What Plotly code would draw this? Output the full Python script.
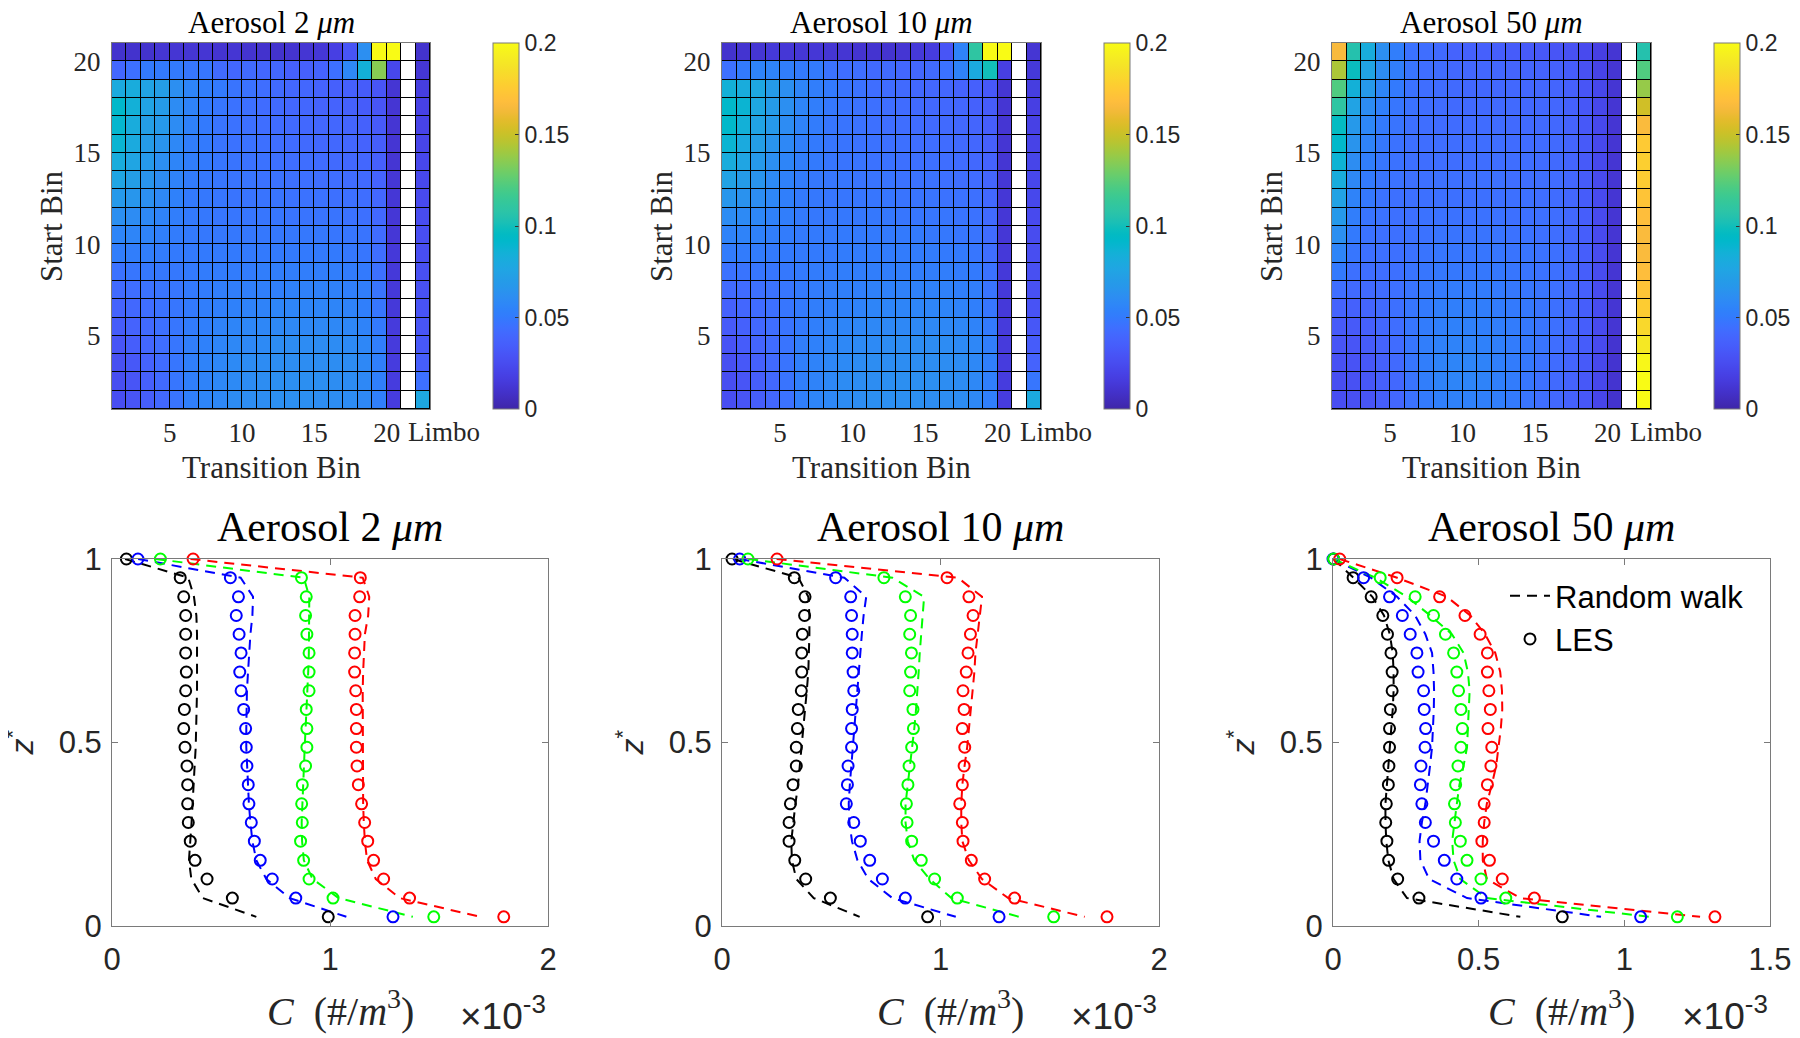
import plotly.graph_objects as go

W, H = 1800, 1038          # browser window
OFF = 8                    # default page (body) margin of the browser
FW, FH = W - OFF, H - OFF  # figure size so that figure + page margin fills the window


def fx(p):
    return (p - OFF) / FW


def fy(p):
    return 1 - (p - OFF) / FH


# ---------------- data ----------------
transition_bins = list(range(1, 23))          # 1..20, empty column 21, Limbo column 22
start_bins = list(range(20, 0, -1))           # rows listed top (20) to bottom (1)
heat_xticks = [5, 10, 15, 20]
heat_xticktext = ["5", "10", "15", "20"]
limbo_label = "Limbo"
limbo_pos = 24
heat_yticks = [5, 10, 15, 20]
heat_yticktext = ["5", "10", "15", "20"]
cbar_ticks = [0, 0.05, 0.1, 0.15, 0.2]
cbar_ticktext = ["0", "0.05", "0.1", "0.15", "0.2"]
titles = ["Aerosol 2 <i>μm</i>", "Aerosol 10 <i>μm</i>", "Aerosol 50 <i>μm</i>"]

N = None
p2 = [
    [.010, .010, .010, .012, .012, .012, .012, .011, .012, .011, .010, .010, .011, .012, .013, .018, .030, .062, .250, .280, N, .010],
    [.040, .045, .050, .050, .050, .048, .048, .042, .040, .042, .040, .040, .036, .036, .038, .045, .058, .085, .135, .022, N, .013],
    [.080, .082, .075, .072, .062, .056, .052, .050, .047, .046, .044, .042, .040, .040, .038, .036, .036, .034, .030, .012, N, .017],
    [.092, .085, .075, .070, .060, .055, .050, .048, .046, .045, .043, .042, .040, .040, .038, .038, .037, .034, .030, .012, N, .019],
    [.090, .082, .072, .068, .060, .054, .050, .047, .046, .045, .044, .043, .042, .041, .040, .040, .039, .037, .033, .012, N, .020],
    [.088, .080, .070, .065, .058, .052, .050, .047, .046, .046, .045, .044, .043, .042, .041, .041, .040, .038, .035, .012, N, .021],
    [.082, .076, .068, .062, .056, .052, .050, .048, .047, .046, .046, .045, .044, .044, .043, .042, .041, .040, .036, .012, N, .022],
    [.076, .072, .065, .060, .055, .051, .049, .048, .047, .047, .046, .046, .045, .045, .044, .044, .043, .042, .038, .013, N, .023],
    [.068, .066, .062, .058, .054, .050, .049, .048, .047, .047, .047, .047, .046, .046, .046, .045, .045, .044, .040, .013, N, .024],
    [.062, .060, .058, .055, .052, .050, .049, .048, .048, .048, .048, .048, .047, .047, .047, .047, .046, .045, .041, .013, N, .025],
    [.056, .056, .055, .053, .051, .050, .049, .049, .049, .049, .049, .049, .049, .049, .049, .048, .048, .047, .043, .013, N, .026],
    [.052, .052, .052, .051, .050, .050, .050, .050, .050, .050, .050, .050, .050, .050, .050, .050, .049, .048, .044, .014, N, .026],
    [.046, .048, .049, .049, .049, .050, .051, .051, .051, .051, .052, .052, .052, .052, .052, .052, .051, .050, .045, .014, N, .027],
    [.042, .044, .046, .047, .048, .050, .051, .052, .052, .053, .053, .053, .054, .054, .054, .054, .053, .052, .047, .014, N, .028],
    [.038, .041, .044, .046, .048, .050, .052, .053, .054, .055, .055, .056, .056, .056, .056, .056, .055, .053, .048, .014, N, .029],
    [.034, .038, .042, .045, .048, .051, .053, .055, .056, .057, .057, .058, .058, .058, .058, .058, .057, .055, .050, .015, N, .030],
    [.030, .035, .040, .044, .048, .052, .054, .056, .058, .058, .059, .060, .060, .060, .060, .060, .059, .057, .052, .015, N, .032],
    [.027, .032, .038, .043, .048, .053, .055, .057, .059, .060, .060, .061, .061, .061, .061, .061, .060, .058, .053, .016, N, .035],
    [.026, .030, .036, .042, .048, .053, .055, .058, .059, .060, .061, .062, .062, .062, .062, .061, .060, .058, .053, .016, N, .045],
    [.026, .030, .035, .041, .047, .053, .056, .058, .060, .061, .061, .062, .062, .062, .061, .061, .060, .058, .053, .016, N, .078],
]
p10 = [
    [.010, .011, .012, .014, .013, .013, .013, .012, .012, .011, .011, .011, .012, .014, .016, .030, .055, .110, .240, .260, N, .012],
    [.045, .050, .055, .055, .052, .050, .050, .046, .044, .044, .042, .042, .040, .040, .042, .046, .055, .080, .100, .018, N, .014],
    [.085, .082, .078, .070, .062, .056, .052, .050, .047, .046, .044, .043, .042, .041, .040, .040, .038, .036, .032, .012, N, .017],
    [.092, .088, .078, .070, .062, .056, .052, .049, .047, .046, .045, .044, .043, .042, .041, .041, .040, .037, .034, .012, N, .018],
    [.092, .085, .075, .068, .060, .055, .051, .048, .047, .046, .045, .044, .044, .043, .042, .042, .041, .039, .035, .012, N, .019],
    [.088, .080, .072, .065, .058, .053, .050, .048, .047, .046, .046, .045, .045, .044, .044, .043, .042, .040, .036, .012, N, .020],
    [.082, .076, .068, .062, .056, .052, .050, .048, .047, .047, .046, .046, .045, .045, .045, .044, .043, .041, .038, .012, N, .021],
    [.074, .070, .065, .059, .054, .051, .049, .048, .048, .047, .047, .047, .046, .046, .046, .045, .044, .043, .039, .013, N, .022],
    [.066, .064, .061, .057, .053, .050, .049, .048, .048, .048, .048, .048, .047, .047, .047, .046, .046, .045, .041, .013, N, .023],
    [.060, .059, .057, .054, .052, .050, .049, .049, .049, .049, .049, .049, .048, .048, .048, .048, .047, .046, .042, .013, N, .024],
    [.055, .055, .054, .052, .051, .050, .050, .050, .050, .050, .050, .050, .050, .050, .049, .049, .048, .047, .043, .013, N, .025],
    [.051, .051, .051, .050, .050, .050, .050, .050, .051, .051, .051, .051, .051, .051, .051, .050, .050, .048, .044, .014, N, .026],
    [.046, .047, .048, .048, .049, .050, .051, .051, .052, .052, .052, .052, .052, .052, .052, .052, .051, .050, .046, .014, N, .027],
    [.042, .043, .045, .046, .048, .050, .051, .052, .053, .053, .054, .054, .054, .054, .054, .054, .053, .052, .047, .014, N, .028],
    [.037, .040, .043, .045, .048, .050, .052, .053, .054, .055, .056, .056, .056, .056, .056, .056, .055, .053, .048, .014, N, .029],
    [.033, .037, .041, .044, .047, .050, .053, .055, .056, .057, .058, .058, .058, .058, .058, .058, .057, .055, .050, .015, N, .031],
    [.029, .034, .039, .043, .047, .052, .054, .056, .058, .059, .059, .060, .060, .060, .060, .060, .059, .057, .052, .015, N, .034],
    [.027, .032, .037, .042, .047, .053, .055, .057, .059, .060, .061, .061, .061, .061, .061, .061, .060, .058, .053, .016, N, .038],
    [.026, .030, .035, .041, .047, .053, .055, .058, .060, .061, .061, .062, .062, .062, .062, .061, .060, .058, .053, .016, N, .048],
    [.026, .030, .035, .040, .046, .053, .056, .058, .060, .061, .062, .062, .062, .062, .061, .061, .060, .058, .053, .016, N, .080],
]
p50 = [
    [.165, .105, .082, .062, .052, .046, .044, .042, .038, .037, .036, .035, .034, .033, .032, .030, .028, .024, .018, .012, N, .105],
    [.143, .098, .075, .060, .052, .047, .044, .043, .041, .040, .040, .040, .039, .039, .038, .037, .034, .028, .020, .012, N, .122],
    [.122, .085, .068, .056, .050, .046, .044, .043, .042, .041, .041, .041, .041, .040, .040, .039, .036, .030, .022, .012, N, .138],
    [.110, .075, .060, .053, .048, .046, .044, .043, .042, .042, .042, .042, .042, .041, .041, .040, .037, .031, .022, .012, N, .152],
    [.096, .068, .057, .050, .047, .045, .044, .043, .043, .043, .043, .043, .042, .042, .042, .041, .038, .032, .023, .012, N, .166],
    [.092, .065, .055, .049, .046, .045, .044, .044, .044, .044, .044, .044, .043, .043, .043, .042, .039, .033, .023, .012, N, .175],
    [.087, .061, .052, .048, .046, .045, .044, .044, .044, .044, .044, .044, .044, .044, .043, .042, .039, .033, .023, .012, N, .178],
    [.082, .058, .050, .047, .046, .045, .045, .045, .045, .045, .045, .045, .044, .044, .044, .043, .040, .034, .024, .012, N, .176],
    [.074, .055, .049, .046, .045, .045, .045, .045, .045, .045, .045, .045, .045, .045, .044, .043, .040, .034, .024, .012, N, .172],
    [.068, .052, .047, .046, .045, .045, .046, .046, .046, .046, .046, .046, .045, .045, .045, .044, .041, .035, .024, .012, N, .168],
    [.062, .050, .046, .045, .045, .046, .046, .047, .047, .047, .047, .047, .046, .046, .045, .044, .041, .035, .024, .012, N, .166],
    [.056, .048, .045, .045, .045, .046, .047, .048, .048, .048, .048, .048, .047, .047, .046, .045, .042, .035, .025, .012, N, .166],
    [.050, .045, .044, .044, .045, .047, .048, .049, .049, .049, .049, .049, .048, .047, .046, .045, .042, .035, .025, .012, N, .168],
    [.044, .042, .042, .043, .045, .047, .049, .050, .051, .051, .051, .050, .049, .048, .047, .045, .042, .036, .025, .012, N, .172],
    [.038, .037, .039, .042, .045, .048, .050, .052, .053, .053, .052, .051, .050, .049, .047, .045, .042, .035, .025, .012, N, .176],
    [.033, .033, .036, .040, .044, .048, .051, .053, .054, .054, .053, .052, .051, .049, .047, .045, .041, .035, .024, .012, N, .182],
    [.030, .030, .034, .038, .043, .048, .052, .054, .055, .055, .054, .053, .051, .049, .047, .044, .040, .034, .024, .011, N, .190],
    [.028, .029, .032, .037, .042, .048, .052, .055, .056, .056, .055, .053, .051, .049, .046, .043, .039, .033, .023, .011, N, .198],
    [.026, .028, .031, .036, .041, .047, .052, .055, .056, .056, .055, .053, .051, .048, .045, .042, .038, .032, .022, .011, N, .205],
    [.026, .027, .030, .035, .040, .046, .050, .053, .054, .054, .053, .052, .050, .047, .044, .041, .037, .031, .021, .010, N, .210],
]

# concentration profiles, C in units of 1e-3 #/m^3, listed from z*=1 down to z*=0.025
z_levels = [1.000, 0.949, 0.897, 0.846, 0.795, 0.744, 0.692, 0.641, 0.590, 0.538,
            0.487, 0.436, 0.385, 0.333, 0.282, 0.231, 0.179, 0.128, 0.076, 0.025]

les2_black = [0.066, 0.313, 0.329, 0.338, 0.338, 0.338, 0.341, 0.338, 0.332, 0.329, 0.335, 0.344, 0.347, 0.347, 0.350, 0.359, 0.381, 0.436, 0.552, 0.992]
rw2_black = [0.06, 0.35, 0.376, 0.387, 0.39, 0.391, 0.391, 0.39, 0.388, 0.387, 0.384, 0.379, 0.375, 0.37, 0.365, 0.359, 0.353, 0.364, 0.417, 0.662]
les2_blue = [0.119, 0.543, 0.580, 0.570, 0.583, 0.592, 0.586, 0.592, 0.604, 0.613, 0.616, 0.619, 0.625, 0.628, 0.639, 0.653, 0.680, 0.735, 0.843, 1.289]
rw2_blue = [0.12, 0.59, 0.647, 0.644, 0.635, 0.628, 0.624, 0.619, 0.616, 0.616, 0.616, 0.619, 0.624, 0.628, 0.635, 0.644, 0.662, 0.708, 0.815, 1.075]
les2_green = [0.222, 0.869, 0.891, 0.888, 0.894, 0.904, 0.904, 0.904, 0.891, 0.894, 0.894, 0.888, 0.873, 0.870, 0.873, 0.865, 0.879, 0.904, 1.014, 1.476]
rw2_green = [0.20, 0.88, 0.905, 0.905, 0.905, 0.903, 0.90, 0.897, 0.893, 0.888, 0.884, 0.88, 0.876, 0.872, 0.87, 0.872, 0.88, 0.92, 1.04, 1.38]
les2_red = [0.372, 1.139, 1.136, 1.115, 1.115, 1.113, 1.113, 1.118, 1.121, 1.121, 1.121, 1.124, 1.130, 1.145, 1.159, 1.173, 1.200, 1.246, 1.365, 1.797]
rw2_red = [0.36, 1.15, 1.18, 1.175, 1.16, 1.155, 1.152, 1.15, 1.15, 1.15, 1.15, 1.15, 1.152, 1.152, 1.155, 1.16, 1.17, 1.21, 1.32, 1.69]

les10_black = [0.046, 0.331, 0.380, 0.378, 0.368, 0.365, 0.365, 0.363, 0.349, 0.345, 0.340, 0.340, 0.325, 0.313, 0.307, 0.307, 0.333, 0.383, 0.496, 0.941]
rw10_black = [0.05, 0.35, 0.395, 0.40, 0.40, 0.398, 0.395, 0.388, 0.38, 0.373, 0.366, 0.358, 0.348, 0.336, 0.325, 0.317, 0.32, 0.34, 0.42, 0.63]
les10_blue = [0.081, 0.520, 0.589, 0.593, 0.596, 0.596, 0.600, 0.603, 0.596, 0.593, 0.593, 0.577, 0.574, 0.569, 0.603, 0.633, 0.676, 0.734, 0.839, 1.268]
rw10_blue = [0.08, 0.56, 0.66, 0.648, 0.64, 0.633, 0.627, 0.62, 0.612, 0.605, 0.60, 0.59, 0.585, 0.58, 0.583, 0.595, 0.62, 0.67, 0.78, 1.07]
les10_green = [0.119, 0.741, 0.839, 0.863, 0.859, 0.867, 0.863, 0.859, 0.874, 0.876, 0.868, 0.856, 0.851, 0.844, 0.847, 0.868, 0.912, 0.973, 1.077, 1.518]
rw10_green = [0.12, 0.78, 0.925, 0.918, 0.91, 0.905, 0.90, 0.895, 0.888, 0.88, 0.87, 0.86, 0.85, 0.84, 0.84, 0.85, 0.88, 0.95, 1.05, 1.36]
les10_red = [0.252, 1.030, 1.130, 1.149, 1.137, 1.126, 1.118, 1.103, 1.108, 1.100, 1.111, 1.108, 1.100, 1.088, 1.100, 1.103, 1.141, 1.202, 1.339, 1.762]
rw10_red = [0.25, 1.08, 1.19, 1.18, 1.168, 1.16, 1.155, 1.147, 1.14, 1.13, 1.122, 1.11, 1.10, 1.095, 1.095, 1.10, 1.13, 1.19, 1.31, 1.66]

les50_black = [0.002, 0.069, 0.131, 0.171, 0.187, 0.199, 0.203, 0.203, 0.197, 0.194, 0.194, 0.192, 0.190, 0.183, 0.181, 0.185, 0.191, 0.222, 0.295, 0.787]
rw50_black = [0.002, 0.07, 0.135, 0.175, 0.195, 0.205, 0.208, 0.208, 0.205, 0.20, 0.195, 0.19, 0.185, 0.18, 0.18, 0.183, 0.19, 0.208, 0.254, 0.643]
les50_blue = [0.000, 0.105, 0.194, 0.238, 0.265, 0.288, 0.292, 0.311, 0.313, 0.318, 0.316, 0.302, 0.300, 0.305, 0.317, 0.345, 0.382, 0.425, 0.508, 1.056]
rw50_blue = [0.0, 0.13, 0.22, 0.282, 0.317, 0.34, 0.345, 0.347, 0.346, 0.344, 0.34, 0.333, 0.325, 0.317, 0.305, 0.297, 0.30, 0.33, 0.46, 0.92]
les50_green = [0.002, 0.162, 0.282, 0.345, 0.386, 0.414, 0.425, 0.431, 0.439, 0.444, 0.439, 0.429, 0.421, 0.417, 0.420, 0.437, 0.460, 0.508, 0.593, 1.182]
rw50_green = [0.002, 0.145, 0.254, 0.334, 0.408, 0.448, 0.463, 0.469, 0.466, 0.464, 0.46, 0.448, 0.434, 0.425, 0.416, 0.409, 0.414, 0.437, 0.528, 1.088]
les50_red = [0.023, 0.220, 0.366, 0.453, 0.505, 0.530, 0.530, 0.535, 0.540, 0.532, 0.545, 0.542, 0.530, 0.519, 0.519, 0.511, 0.537, 0.581, 0.691, 1.311]
rw50_red = [0.023, 0.22, 0.391, 0.471, 0.522, 0.557, 0.574, 0.58, 0.581, 0.576, 0.568, 0.56, 0.545, 0.528, 0.519, 0.514, 0.514, 0.528, 0.643, 1.26]

line_xranges = [[0, 2], [0, 2], [0, 1.5]]
line_xticks = [[0, 1, 2], [0, 1, 2], [0, 0.5, 1, 1.5]]
line_xticktext = [["0", "1", "2"], ["0", "1", "2"], ["0", "0.5", "1", "1.5"]]
line_yticks = [0, 0.5, 1]
line_yticktext = ["0", "0.5", "1"]
legend_names = ["Random walk", "LES"]
series_colors = ["#000000", "#0000ff", "#00ff00", "#ff0000"]

# ---------------- styling ----------------
parula = [
    (0.2422, 0.1504, 0.6603), (0.2504, 0.1650, 0.7076), (0.2578, 0.1818, 0.7511), (0.2647, 0.1978, 0.7952),
    (0.2706, 0.2147, 0.8364), (0.2751, 0.2342, 0.8710), (0.2783, 0.2559, 0.8991), (0.2803, 0.2782, 0.9221),
    (0.2813, 0.3006, 0.9414), (0.2810, 0.3228, 0.9579), (0.2795, 0.3447, 0.9717), (0.2760, 0.3667, 0.9829),
    (0.2699, 0.3892, 0.9906), (0.2602, 0.4123, 0.9952), (0.2440, 0.4358, 0.9988), (0.2206, 0.4603, 0.9973),
    (0.1963, 0.4847, 0.9892), (0.1834, 0.5074, 0.9798), (0.1786, 0.5289, 0.9682), (0.1764, 0.5499, 0.9520),
    (0.1687, 0.5703, 0.9359), (0.1540, 0.5902, 0.9218), (0.1460, 0.6091, 0.9079), (0.1380, 0.6276, 0.8973),
    (0.1248, 0.6459, 0.8883), (0.1113, 0.6635, 0.8763), (0.0952, 0.6798, 0.8598), (0.0689, 0.6948, 0.8394),
    (0.0297, 0.7082, 0.8163), (0.0036, 0.7203, 0.7917), (0.0067, 0.7312, 0.7660), (0.0433, 0.7411, 0.7394),
    (0.0964, 0.7500, 0.7120), (0.1408, 0.7584, 0.6842), (0.1717, 0.7670, 0.6554), (0.1938, 0.7758, 0.6251),
    (0.2161, 0.7843, 0.5923), (0.2470, 0.7918, 0.5567), (0.2906, 0.7973, 0.5188), (0.3406, 0.8008, 0.4789),
    (0.3909, 0.8029, 0.4354), (0.4456, 0.8024, 0.3909), (0.5044, 0.7993, 0.3480), (0.5616, 0.7942, 0.3045),
    (0.6174, 0.7876, 0.2612), (0.6720, 0.7793, 0.2227), (0.7242, 0.7698, 0.1910), (0.7738, 0.7598, 0.1646),
    (0.8203, 0.7498, 0.1535), (0.8634, 0.7406, 0.1596), (0.9035, 0.7330, 0.1774), (0.9393, 0.7288, 0.2100),
    (0.9728, 0.7298, 0.2394), (0.9956, 0.7434, 0.2371), (0.9970, 0.7659, 0.2199), (0.9952, 0.7893, 0.2028),
    (0.9892, 0.8136, 0.1885), (0.9786, 0.8386, 0.1766), (0.9676, 0.8639, 0.1643), (0.9610, 0.8890, 0.1537),
    (0.9597, 0.9135, 0.1423), (0.9628, 0.9373, 0.1265), (0.9691, 0.9606, 0.1064), (0.9769, 0.9839, 0.0805),
]
parula_scale = [[i / (len(parula) - 1), "rgb(%d,%d,%d)" % tuple(round(255 * c) for c in rgb)]
                for i, rgb in enumerate(parula)]

SERIF = "Liberation Serif, Times New Roman, serif"
SANS = "Liberation Sans, Arial, Helvetica, sans-serif"
TXT = "#262626"
FRAME = "#7a7a7a"

# positions in window pixels
heat_boxes = [(112, 430), (722, 1041), (1332, 1651)]
heat_top, heat_bot = 43, 409
cbar_lefts = [493, 1104, 1714]
line_boxes = [(112, 548), (722, 1159), (1333, 1770)]
line_top, line_bot = 559, 926

fig = go.Figure()
layout = dict(width=FW, height=FH, margin=dict(l=0, r=0, t=0, b=0, pad=0, autoexpand=False),
              paper_bgcolor="white", plot_bgcolor="white", showlegend=True)
shapes = []
annotations = []

x_centers = [b + 0.5 for b in transition_bins]
y_centers = [b + 0.5 for b in start_bins]
x_span = [transition_bins[0], transition_bins[-1] + 1]
y_span = [start_bins[-1], start_bins[0] + 1]

for i, mat in enumerate([p2, p10, p50]):
    ax = i + 1
    xa = "x" if ax == 1 else "x%d" % ax
    ya = "y" if ax == 1 else "y%d" % ax
    l, r = heat_boxes[i]
    fig.add_trace(go.Heatmap(
        x=x_centers, y=y_centers, z=mat, zmin=0, zmax=0.2, colorscale=parula_scale,
        xgap=1, ygap=1, xaxis=xa, yaxis=ya, hoverinfo="skip",
        colorbar=dict(x=fx(cbar_lefts[i]), xanchor="left", xpad=0, ypad=0,
                      y=fy((heat_top + heat_bot) / 2), yanchor="middle",
                      len=(heat_bot - heat_top) / FH, lenmode="fraction",
                      thickness=26, thicknessmode="pixels",
                      outlinewidth=1, outlinecolor=FRAME,
                      tickvals=cbar_ticks, ticktext=cbar_ticktext,
                      ticks="inside", ticklen=4, tickcolor="#333333",
                      tickfont=dict(family=SANS, size=23, color=TXT)),
    ))
    gap = [[1 if v is None else None for v in row] for row in mat]
    fig.add_trace(go.Heatmap(
        x=x_centers, y=y_centers, z=gap, colorscale=[[0, "white"], [1, "white"]],
        showscale=False, xgap=1, ygap=1, xaxis=xa, yaxis=ya, hoverinfo="skip"))
    layout["xaxis" if ax == 1 else "xaxis%d" % ax] = dict(
        domain=[fx(l), fx(r)], anchor=ya, range=x_span, showgrid=False, zeroline=False,
        showline=True, mirror=True, linecolor=FRAME, linewidth=1, automargin=False,
        tickvals=heat_xticks, ticktext=heat_xticktext, ticks="", ticklabelstandoff=0,
        tickfont=dict(family=SERIF, size=27, color=TXT))
    layout["yaxis" if ax == 1 else "yaxis%d" % ax] = dict(
        domain=[fy(heat_bot), fy(heat_top)], anchor=xa, range=y_span, showgrid=False,
        zeroline=False, showline=True, mirror=True, linecolor=FRAME, linewidth=1, automargin=False,
        tickvals=heat_yticks, ticktext=heat_yticktext, ticks="", ticklabelstandoff=5,
        tickfont=dict(family=SERIF, size=27, color=TXT))
    shapes.append(dict(type="rect", xref=xa + " domain", yref=ya + " domain",
                       x0=0, x1=1, y0=0, y1=1, fillcolor="black", line_width=0, layer="below"))
    cx = (l + r) / 2
    limbo_px = l + (limbo_pos - x_span[0]) / (x_span[1] - x_span[0]) * (r - l)
    annotations += [
        dict(text=titles[i], x=fx(cx), y=fy(23), xref="paper", yref="paper",
             showarrow=False, xanchor="center", yanchor="middle",
             font=dict(family=SERIF, size=31, color="black")),
        dict(text="Transition Bin", x=fx(cx), y=fy(467), xref="paper", yref="paper",
             showarrow=False, xanchor="center", yanchor="middle",
             font=dict(family=SERIF, size=31, color=TXT)),
        dict(text="Start Bin", x=fx(l - 61), y=fy((heat_top + heat_bot) / 2), xref="paper",
             yref="paper", showarrow=False, textangle=-90, xanchor="center", yanchor="middle",
             font=dict(family=SERIF, size=31, color=TXT)),
        dict(text=limbo_label, x=fx(limbo_px), y=fy(432), xref="paper", yref="paper",
             showarrow=False, xanchor="center", yanchor="middle",
             font=dict(family=SERIF, size=27, color=TXT)),
    ]

profiles = [
    ([les2_black, les2_blue, les2_green, les2_red], [rw2_black, rw2_blue, rw2_green, rw2_red]),
    ([les10_black, les10_blue, les10_green, les10_red], [rw10_black, rw10_blue, rw10_green, rw10_red]),
    ([les50_black, les50_blue, les50_green, les50_red], [rw50_black, rw50_blue, rw50_green, rw50_red]),
]

for i, (les_set, rw_set) in enumerate(profiles):
    ax = i + 4
    xa, ya = "x%d" % ax, "y%d" % ax
    l, r = line_boxes[i]
    for k, color in enumerate(series_colors):
        legend_on = (i == 2 and k == 0)
        fig.add_trace(go.Scatter(
            x=rw_set[k], y=z_levels, mode="lines", xaxis=xa, yaxis=ya,
            line=dict(color=color, width=2, dash="10px,7px"),
            name=legend_names[0], showlegend=legend_on, cliponaxis=False, hoverinfo="skip"))
    for k, color in enumerate(series_colors):
        legend_on = (i == 2 and k == 0)
        fig.add_trace(go.Scatter(
            x=les_set[k], y=z_levels, mode="markers", xaxis=xa, yaxis=ya,
            marker=dict(symbol="circle-open", size=11, color=color, line=dict(width=2, color=color)),
            name=legend_names[1], showlegend=legend_on, cliponaxis=False, hoverinfo="skip"))
    layout["xaxis%d" % ax] = dict(
        domain=[fx(l), fx(r)], anchor=ya, range=line_xranges[i], showgrid=False, zeroline=False,
        showline=True, mirror="ticks", linecolor=FRAME, linewidth=1, automargin=False,
        tickvals=line_xticks[i], ticktext=line_xticktext[i], ticks="inside", ticklen=6,
        tickcolor=FRAME, ticklabelstandoff=6, tickfont=dict(family=SANS, size=31, color=TXT))
    layout["yaxis%d" % ax] = dict(
        domain=[fy(line_bot), fy(line_top)], anchor=xa, range=[0, 1], showgrid=False,
        zeroline=False, showline=True, mirror="ticks", linecolor=FRAME, linewidth=1, automargin=False,
        tickvals=line_yticks, ticktext=line_yticktext, ticks="inside", ticklen=6,
        tickcolor=FRAME, ticklabelstandoff=3, tickfont=dict(family=SANS, size=31, color=TXT))
    cx = (l + r) / 2
    annotations += [
        dict(text=titles[i], x=fx(cx), y=fy(527), xref="paper", yref="paper",
             showarrow=False, xanchor="center", yanchor="middle",
             font=dict(family=SERIF, size=42, color="black")),
        dict(text="<i>C</i>  (#/<i>m</i><sup>3</sup>)", x=fx(cx + 10), y=fy(1008), xref="paper",
             yref="paper", showarrow=False, xanchor="center", yanchor="middle",
             font=dict(family=SERIF, size=40, color=TXT)),
        dict(text="×10<sup>-3</sup>", x=fx(r), y=fy(1013), xref="paper", yref="paper",
             showarrow=False, xanchor="right", yanchor="middle",
             font=dict(family=SANS, size=37, color=TXT)),
        dict(text="<i>z</i><sup>*</sup>", x=fx(l - 93), y=fy((line_top + line_bot) / 2),
             xref="paper", yref="paper", showarrow=False, textangle=-90,
             xanchor="center", yanchor="middle", font=dict(family=SANS, size=32, color=TXT)),
    ]

layout["legend"] = dict(x=fx(1505), y=fy(569), xanchor="left", yanchor="top",
                        bgcolor="rgba(0,0,0,0)", borderwidth=0,
                        font=dict(family=SANS, size=31, color="black"),
                        itemwidth=40, tracegroupgap=0)
layout["shapes"] = shapes
layout["annotations"] = annotations
fig.update_layout(**layout)
fig.write_html("out.html")
